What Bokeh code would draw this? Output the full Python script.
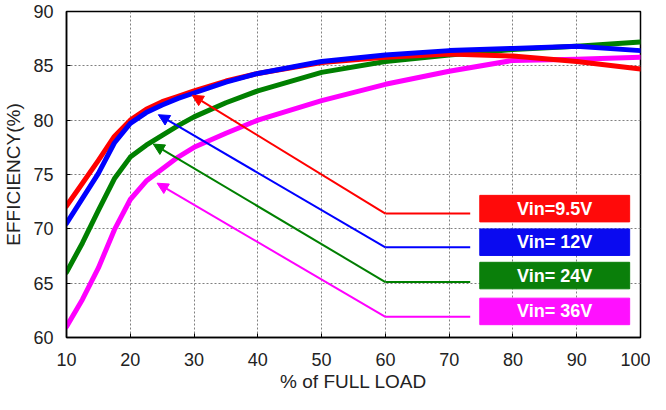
from bokeh.plotting import figure
from bokeh.models import Arrow, NormalHead, FixedTicker, Range1d
from bokeh.core.properties import value
from bokeh.embed import file_html
from bokeh.resources import INLINE

# ---- data ----
load = [10, 12.5, 15, 17.5, 20, 22.5, 25, 27.5, 30, 35, 40, 50, 60, 70, 80, 90, 100]
eff_9v5 = [72.1, 74.2, 76.3, 78.5, 80.0, 81.0, 81.7, 82.2, 82.7, 83.6, 84.3, 85.3, 85.8, 86.1, 85.9, 85.4, 84.7]
eff_12v = [70.5, 72.8, 75.1, 77.9, 79.7, 80.7, 81.4, 82.0, 82.5, 83.5, 84.3, 85.4, 86.0, 86.4, 86.6, 86.8, 86.4]
eff_24v = [66.0, 68.7, 71.7, 74.6, 76.6, 77.7, 78.6, 79.5, 80.3, 81.6, 82.7, 84.4, 85.4, 86.0, 86.5, 86.8, 87.2]
eff_36v = [61.0, 63.5, 66.4, 69.9, 72.7, 74.4, 75.5, 76.6, 77.5, 78.8, 80.0, 81.8, 83.3, 84.5, 85.5, 85.6, 85.8]

series_names = ["Vin=9.5V", "Vin= 12V", "Vin= 24V", "Vin= 36V"]
series_colors = ["#ff0000", "#0000ff", "#008000", "#ff00ff"]
box_colors = ["#ff0a0a", "#0a0af0", "#0a7f0a", "#ff10ff"]

x_ticks = [10, 20, 30, 40, 50, 60, 70, 80, 90, 100]
y_ticks = [60, 65, 70, 75, 80, 85, 90]

# callout geometry (annotation anchors in data units)
arrow_tip_x = [29.7, 24.4, 23.6, 24.2]
arrow_tip_y = [82.3, 80.5, 77.8, 74.2]
leader_y = [71.4, 68.3, 65.1, 61.9]
leader_x0 = 60
leader_x1 = 73.3
box_left, box_right = 74.8, 98.3
box_center_y = [71.86, 68.77, 65.7, 62.4]
box_half_h = 1.22

font = "Liberation Sans"

p = figure(width=650, height=394, output_backend="svg", toolbar_location=None,
           x_range=Range1d(10, 100), y_range=Range1d(60, 90),
           min_border_left=64, min_border_right=10, min_border_top=11, min_border_bottom=57)

p.outline_line_color = "black"
p.outline_line_width = 1.5
p.background_fill_color = "white"

for ax in (p.xaxis[0], p.yaxis[0]):
    ax.major_label_text_font = font
    ax.major_label_text_font_size = "18px"
    ax.major_label_text_color = "#222222"
    ax.axis_label_text_font = font
    ax.axis_label_text_font_size = "19px"
    ax.axis_label_text_font_style = "normal"
    ax.axis_label_text_color = "#222222"
    ax.axis_line_color = "black"
    ax.axis_line_width = 1.5
    ax.major_tick_in = 4
    ax.major_tick_out = 0
    ax.major_tick_line_color = "black"
    ax.minor_tick_line_color = None

p.xaxis[0].ticker = FixedTicker(ticks=x_ticks)
p.yaxis[0].ticker = FixedTicker(ticks=y_ticks)
p.xaxis[0].axis_label = "% of FULL LOAD"
p.yaxis[0].axis_label = "EFFICIENCY(%)"
p.xaxis[0].major_label_standoff = 15
p.xaxis[0].axis_label_standoff = 2
p.yaxis[0].major_label_standoff = 13
p.yaxis[0].axis_label_standoff = 6

for g in (p.xgrid[0], p.ygrid[0]):
    g.grid_line_color = "#808080"
    g.grid_line_dash = "2 2"
    g.grid_line_width = 1

all_series = [eff_9v5, eff_12v, eff_24v, eff_36v]

# callout leaders and arrows (drawn beneath the curves)
for i in range(4):
    c = series_colors[i]
    p.segment(x0=[leader_x0], y0=[leader_y[i]], x1=[leader_x1], y1=[leader_y[i]],
              line_color=c, line_width=2)
    p.add_layout(Arrow(end=NormalHead(size=11, fill_color=c, line_color=c),
                       x_start=leader_x0, y_start=leader_y[i],
                       x_end=arrow_tip_x[i], y_end=arrow_tip_y[i],
                       line_color=c, line_width=2))

# efficiency curves (draw 36V first so 9.5V/12V sit on top)
for i in [3, 2, 0, 1]:
    p.line(load, all_series[i], line_color=series_colors[i], line_width=5,
           line_join="round", line_cap="round")

# label boxes
p.quad(left=[box_left] * 4, right=[box_right] * 4,
       top=[y + box_half_h for y in box_center_y],
       bottom=[y - box_half_h for y in box_center_y],
       fill_color=box_colors, line_color=box_colors)
p.text(x=[(box_left + box_right) / 2] * 4, y=box_center_y, text=series_names,
       text_color="white", text_font=value(font), text_font_style="bold",
       text_font_size="18px", text_align="center", text_baseline="middle")

open("out.html", "w").write(file_html(p, INLINE))
